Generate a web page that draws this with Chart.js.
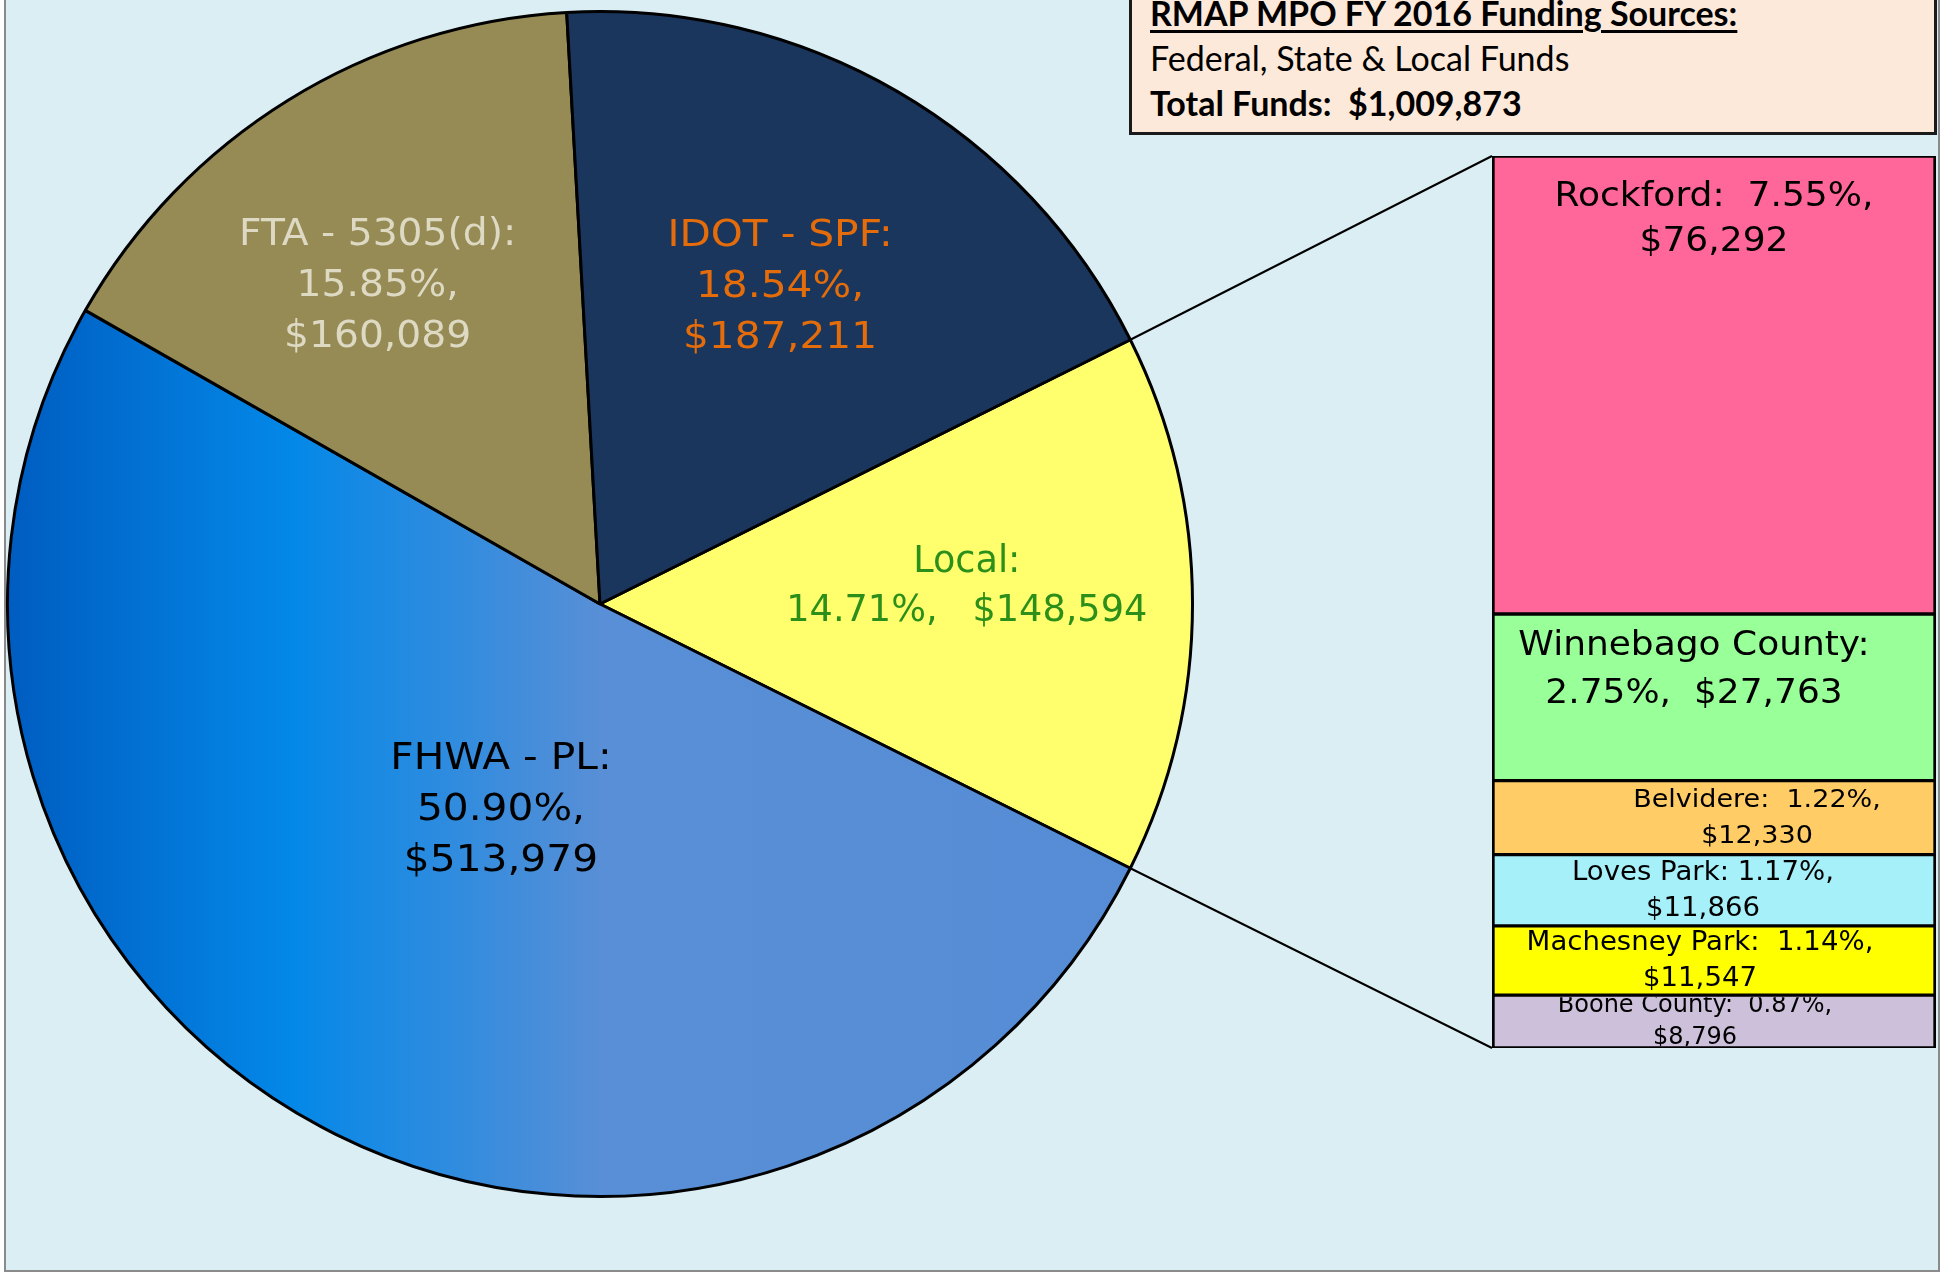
<!DOCTYPE html>
<html>
<head>
<meta charset="utf-8">
<script src="https://cdn.jsdelivr.net/npm/chart.js@4.4.1/dist/chart.umd.min.js"></script>
<style>
  html, body { margin: 0; padding: 0; background: #ffffff; }
  #page { position: relative; width: 1944px; height: 1272px; overflow: hidden; }
  #frame { position: absolute; left: 4px; top: -10px; width: 1936px; height: 1282px;
           box-sizing: border-box; border: 2px solid #8a8a8a; background: #dbeef4; }
  canvas { position: absolute; left: 0; top: 0; }
  #titleBox { position: absolute; left: 1129px; top: -10px; width: 808px; height: 145px;
              box-sizing: border-box; border: 3px solid #1a1a1a; background: #fde9d9;
              font-family: Lato, "Liberation Sans", sans-serif; font-size: 34px; color: #000; }
  #titleBox div { position: absolute; left: 18px; white-space: nowrap; line-height: 1; }
  #t1 { top: 3px; font-weight: bold; text-decoration: underline; text-decoration-thickness: 3px; text-underline-offset: 4px; }
  #t2 { top: 48px; }
  #t3 { top: 93px; font-weight: bold; }
</style>
</head>
<body>
<div id="page">
  <div id="frame"></div>
  <canvas id="pieChart" width="1944" height="1272"></canvas>
  <canvas id="barChart" width="1944" height="1272"></canvas>
  <div id="titleBox">
    <div id="t1">RMAP MPO FY 2016 Funding Sources:</div>
    <div id="t2">Federal, State &amp; Local Funds</div>
    <div id="t3">Total Funds:&nbsp; $1,009,873</div>
  </div>
</div>
<script>
// funding sources (pie), in drawing order clockwise from the "Local" slice
const sources = ["Local", "FHWA - PL", "FTA - 5305(d)", "IDOT - SPF"];
const sourceFunds = [148594, 513979, 160089, 187211];
const sourcePct = ["14.71", "50.90", "15.85", "18.54"];

// breakdown of local funds (bar), top to bottom
const localNames = ["Rockford", "Winnebago County", "Belvidere", "Loves Park", "Machesney Park", "Boone County"];
const localFunds = [76292, 27763, 12330, 11866, 11547, 8796];
const localPct = ["7.55", "2.75", "1.22", "1.17", "1.14", "0.87"];

const money = v => "$" + v.toLocaleString("en-US");
const total = sourceFunds.reduce((a, b) => a + b, 0);
const localTotal = localFunds.reduce((a, b) => a + b, 0);

const sliceColors = ["#ffff6e", null, "#968b55", "#1a365c"];
const barColors = ["#ff6699", "#99ff99", "#ffcc66", "#a6f0fa", "#ffff00", "#ccc0da"];

const pieText = [
  ["Local:", sourcePct[0] + "%,   " + money(sourceFunds[0])],
  ["FHWA - PL:", sourcePct[1] + "%,", money(sourceFunds[1])],
  ["FTA - 5305(d):", sourcePct[2] + "%,", money(sourceFunds[2])],
  ["IDOT - SPF:", sourcePct[3] + "%,", money(sourceFunds[3])]
];
const pieLabelStyle = [
  { r: 0.62, da: -3.2, color: "#2b8f1a", lh: 49, sx: 0.99 },
  { r: 0.38, da: -2.0, color: "#000000", lh: 51, sx: 1.1 },
  { r: 0.66, da: -2.9, color: "#ddd9c3", lh: 51, sx: 1.06 },
  { r: 0.62, da: -0.8, color: "#e46c0a", lh: 51, sx: 1.1 }
];

const barText = [
  [localNames[0] + ":  " + localPct[0] + "%,", money(localFunds[0])],
  [localNames[1] + ":", localPct[1] + "%,  " + money(localFunds[1])],
  [localNames[2] + ":  " + localPct[2] + "%,", money(localFunds[2])],
  [localNames[3] + ": " + localPct[3] + "%,", money(localFunds[3])],
  [localNames[4] + ":  " + localPct[4] + "%,", money(localFunds[4])],
  [localNames[5] + ":  " + localPct[5] + "%,", money(localFunds[5])]
];
const barLabelStyle = [
  { dx: 0, top: 50, lh: 45, size: 34, sx: 1.06 },
  { dx: -20, top: 41, lh: 48, size: 33, sx: 1.09 },
  { dx: 43, top: 26, lh: 36, size: 25, sx: 1.08 },
  { dx: -11, top: 25, lh: 36, size: 26, sx: 1.06 },
  { dx: -14, top: 24, lh: 36, size: 26, sx: 1.06 },
  { dx: -19, top: 17, lh: 32, size: 24, sx: 1.0 }
];

function fhwaGradient(ctx) {
  const area = ctx.chart.chartArea;
  if (!area) return "#3b8de0";
  const g = ctx.chart.ctx.createLinearGradient(area.left, 0, area.right, 0);
  g.addColorStop(0, "#005cc0");
  g.addColorStop(0.24, "#0388e8");
  g.addColorStop(0.5, "#588fd6");
  g.addColorStop(1, "#558cd5");
  return g;
}

function stretchedText(c, text, x, y, sx) {
  c.save();
  c.translate(x, y);
  c.scale(sx, 1);
  c.fillText(text, 0, 0);
  c.restore();
}

const pieLabels = {
  id: "pieLabels",
  afterDatasetsDraw(chart) {
    const c = chart.ctx;
    const font = 37;
    chart.getDatasetMeta(0).data.forEach((arc, i) => {
      const st = pieLabelStyle[i];
      const mid = (arc.startAngle + arc.endAngle) / 2 + st.da * Math.PI / 180;
      const cx = arc.x + Math.cos(mid) * arc.outerRadius * st.r;
      const cy = arc.y + Math.sin(mid) * arc.outerRadius * st.r;
      const lines = pieText[i];
      c.save();
      c.font = font + 'px "DejaVu Sans"';
      c.fillStyle = st.color;
      c.textAlign = "center";
      c.textBaseline = "alphabetic";
      lines.forEach((t, k) => {
        stretchedText(c, t, cx, cy + (k - (lines.length - 1) / 2) * st.lh + font * 0.365, st.sx);
      });
      c.restore();
    });
  }
};

const pieChart = new Chart(document.getElementById("pieChart"), {
  type: "pie",
  data: {
    labels: sources,
    datasets: [{
      data: sourceFunds,
      backgroundColor: ctx => ctx.dataIndex === 1 ? fhwaGradient(ctx) : sliceColors[ctx.dataIndex],
      borderColor: "#000000",
      borderWidth: 3
    }]
  },
  options: {
    responsive: false,
    animation: false,
    rotation: 90 - 180 * sourceFunds[0] / total,
    layout: { padding: { left: 6, top: 10, right: 750, bottom: 74 } },
    plugins: { legend: { display: false }, tooltip: { enabled: false } }
  },
  plugins: [pieLabels]
});

const barLabels = {
  id: "barLabels",
  afterDatasetsDraw(chart) {
    const c = chart.ctx;
    chart.data.datasets.forEach((ds, i) => {
      const el = chart.getDatasetMeta(i).data[0];
      const top = Math.min(el.y, el.base), bottom = Math.max(el.y, el.base);
      const left = el.x - el.width / 2;
      const st = barLabelStyle[i];
      c.save();
      c.beginPath();
      c.rect(left + 3, top + 2, el.width - 6, bottom - top - 4);
      c.clip();
      c.font = st.size + 'px "DejaVu Sans"';
      c.fillStyle = "#000000";
      c.textAlign = "center";
      barText[i].forEach((t, k) => stretchedText(c, t, el.x + st.dx, top + st.top + k * st.lh, st.sx));
      c.restore();
    });
  }
};

// lines joining the Local slice to the breakdown bar
const connectors = {
  id: "connectors",
  afterDatasetsDraw(chart) {
    const arc = pieChart.getDatasetMeta(0).data[0];
    const first = chart.getDatasetMeta(0).data[0];
    const last = chart.getDatasetMeta(chart.data.datasets.length - 1).data[0];
    const barLeft = first.x - first.width / 2;
    const barTop = Math.min(first.y, first.base);
    const barBottom = Math.max(last.y, last.base);
    const r = arc.outerRadius;
    const c = chart.ctx;
    c.save();
    c.strokeStyle = "#000000";
    c.lineWidth = 2;
    c.beginPath();
    c.moveTo(arc.x + r * Math.cos(arc.startAngle), arc.y + r * Math.sin(arc.startAngle));
    c.lineTo(barLeft, barTop);
    c.moveTo(arc.x + r * Math.cos(arc.endAngle), arc.y + r * Math.sin(arc.endAngle));
    c.lineTo(barLeft, barBottom);
    c.stroke();
    c.restore();
  }
};

new Chart(document.getElementById("barChart"), {
  type: "bar",
  data: {
    labels: ["Local"],
    datasets: localNames.map((name, i) => ({
      label: name,
      data: [localFunds[i]],
      backgroundColor: barColors[i],
      borderColor: "#000000",
      borderWidth: { top: 2, bottom: 2, left: 3, right: 3 },
      borderSkipped: false,
      barPercentage: 1,
      categoryPercentage: 1
    }))
  },
  options: {
    responsive: false,
    animation: false,
    layout: { padding: { left: 1492, right: 8, top: 156, bottom: 224 } },
    scales: {
      x: { display: false, stacked: true },
      y: { display: false, stacked: true, reverse: true, min: 0, max: localTotal }
    },
    plugins: { legend: { display: false }, tooltip: { enabled: false } }
  },
  plugins: [barLabels, connectors]
});
</script>
</body>
</html>
